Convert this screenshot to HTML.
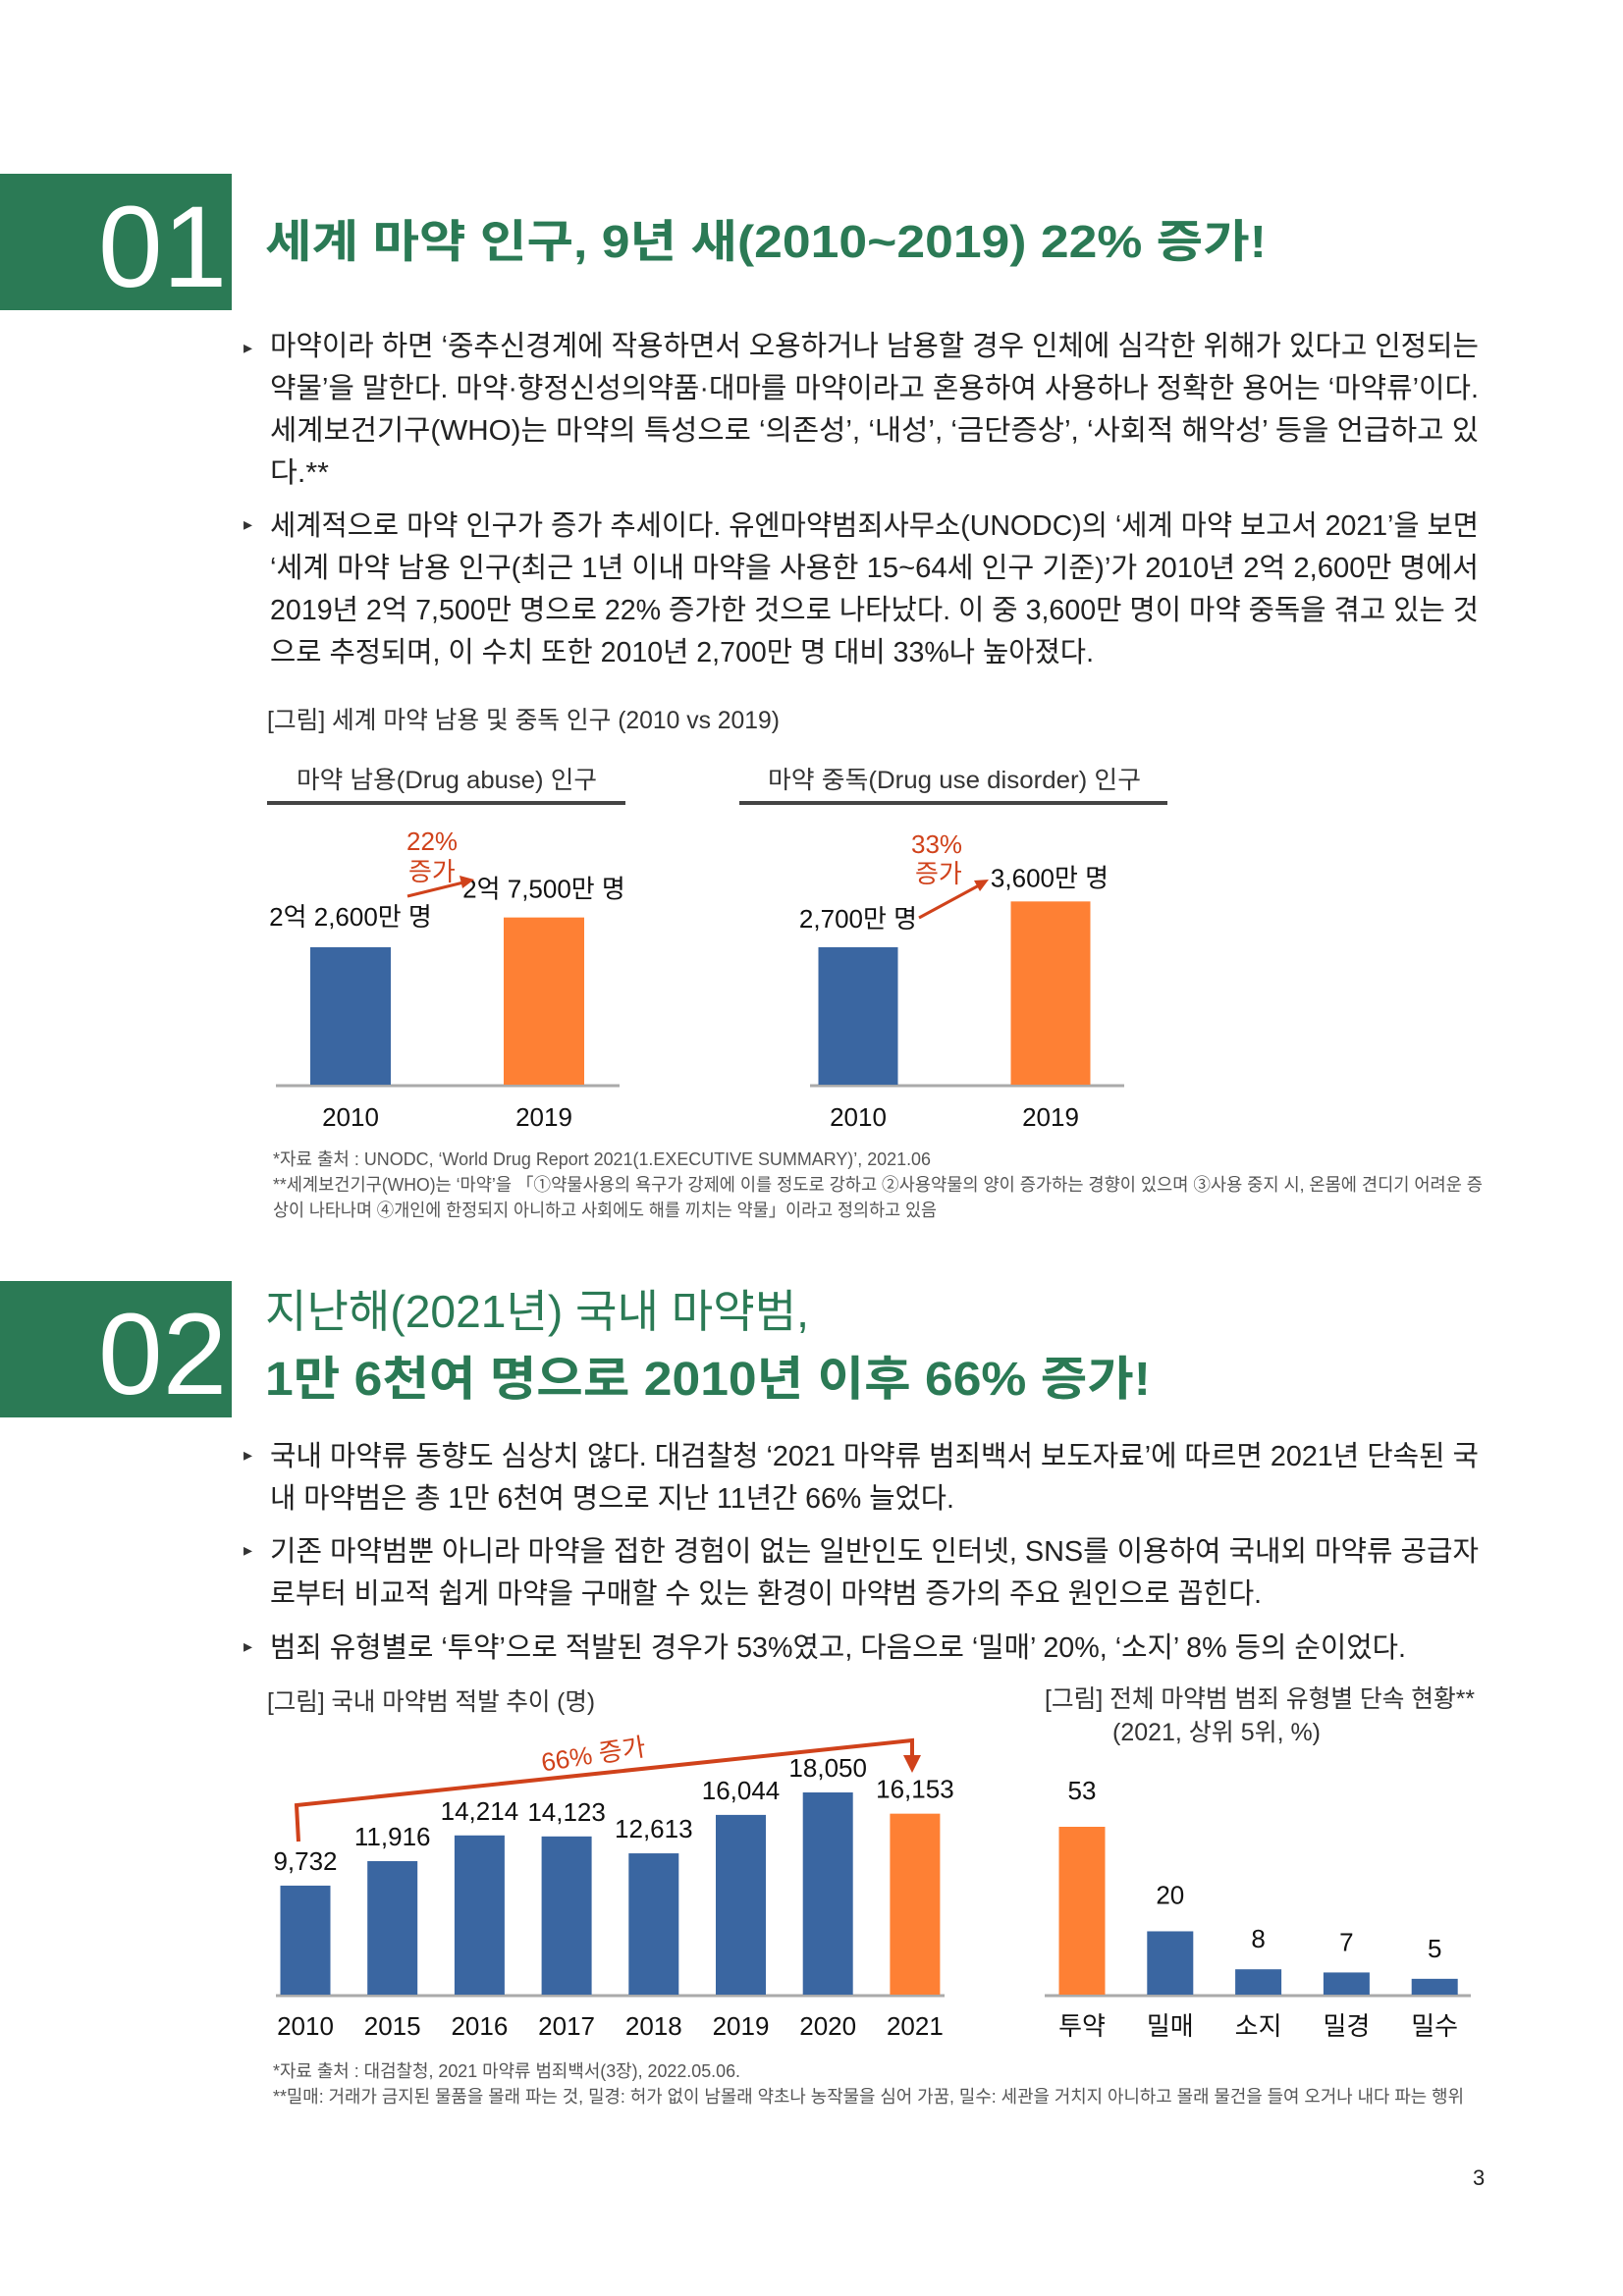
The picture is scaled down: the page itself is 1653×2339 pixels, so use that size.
<!DOCTYPE html>
<html><head><meta charset="utf-8"><style>
html,body{margin:0;padding:0;background:#fff}
svg{display:block}
text{font-family:"Liberation Sans","Noto Sans CJK KR",sans-serif}
.b{font-size:29px;fill:#222}
.fn{font-size:18px;fill:#555}
.cap{font-size:25px;fill:#333}
.lab{font-size:26px;fill:#111}
.red{fill:#d0421b}
</style></head><body>
<svg id="page" width="1653" height="2339" viewBox="0 0 1653 2339" xmlns="http://www.w3.org/2000/svg">
<rect width="1653" height="2339" fill="#fff"/>
<!-- Section 01 -->
<rect x="0" y="177" width="236" height="139" fill="#2b7a55"/>
<text x="100" y="292" font-family="Liberation Serif,serif" font-size="118" fill="#fff">01</text>
<text x="270" y="262" font-size="46" font-weight="bold" fill="#2b7a55" textLength="1020" lengthAdjust="spacingAndGlyphs">세계 마약 인구, 9년 새(2010~2019) 22% 증가!</text>
<g>
<text x="248" y="360" font-size="18" fill="#333">▸</text>
<text class="b" x="275" y="362" textLength="1231" lengthAdjust="spacingAndGlyphs">마약이라 하면 ‘중추신경계에 작용하면서 오용하거나 남용할 경우 인체에 심각한 위해가 있다고 인정되는</text>
<text class="b" x="275" y="405" textLength="1231" lengthAdjust="spacingAndGlyphs">약물’을 말한다. 마약·향정신성의약품·대마를 마약이라고 혼용하여 사용하나 정확한 용어는 ‘마약류’이다.</text>
<text class="b" x="275" y="448" textLength="1231" lengthAdjust="spacingAndGlyphs">세계보건기구(WHO)는 마약의 특성으로 ‘의존성’, ‘내성’, ‘금단증상’, ‘사회적 해악성’ 등을 언급하고 있</text>
<text class="b" x="275" y="491" textLength="60" lengthAdjust="spacingAndGlyphs">다.**</text>
<text x="248" y="540" font-size="18" fill="#333">▸</text>
<text class="b" x="275" y="545" textLength="1231" lengthAdjust="spacingAndGlyphs">세계적으로 마약 인구가 증가 추세이다. 유엔마약범죄사무소(UNODC)의 ‘세계 마약 보고서 2021’을 보면</text>
<text class="b" x="275" y="588" textLength="1231" lengthAdjust="spacingAndGlyphs">‘세계 마약 남용 인구(최근 1년 이내 마약을 사용한 15~64세 인구 기준)’가 2010년 2억 2,600만 명에서</text>
<text class="b" x="275" y="631" textLength="1231" lengthAdjust="spacingAndGlyphs">2019년 2억 7,500만 명으로 22% 증가한 것으로 나타났다. 이 중 3,600만 명이 마약 중독을 겪고 있는 것</text>
<text class="b" x="275" y="674" textLength="839" lengthAdjust="spacingAndGlyphs">으로 추정되며, 이 수치 또한 2010년 2,700만 명 대비 33%나 높아졌다.</text>
</g>
<text class="cap" x="272" y="742" textLength="522" lengthAdjust="spacingAndGlyphs">[그림] 세계 마약 남용 및 중독 인구 (2010 vs 2019)</text>
<text class="cap" x="302" y="803" textLength="306" lengthAdjust="spacingAndGlyphs">마약 남용(Drug abuse) 인구</text>
<rect x="272" y="816" width="365" height="4" fill="#444"/>
<text class="cap" x="782" y="803" textLength="380" lengthAdjust="spacingAndGlyphs">마약 중독(Drug use disorder) 인구</text>
<rect x="753" y="816" width="436" height="4" fill="#444"/>
<g id="c1"></g>
<g id="c2"></g>
<!-- annotations chart 1/2 -->
<text class="lab red" x="414" y="866" font-size="26">22%</text>
<text class="lab red" x="416" y="897" font-size="26">증가</text>
<line x1="415" y1="913" x2="472" y2="899" stroke="#d0421b" stroke-width="3"/>
<polygon points="483,896 468,892 471,905" fill="#d0421b"/>
<text class="lab red" x="928" y="869" font-size="26">33%</text>
<text class="lab red" x="932" y="899" font-size="26">증가</text>
<line x1="936" y1="935" x2="997" y2="902" stroke="#d0421b" stroke-width="3"/>
<polygon points="1007,896 992,897 998,908" fill="#d0421b"/>
<g>
<text class="fn" x="278" y="1187" textLength="670" lengthAdjust="spacingAndGlyphs">*자료 출처 : UNODC, ‘World Drug Report 2021(1.EXECUTIVE SUMMARY)’, 2021.06</text>
<text class="fn" x="278" y="1213" textLength="1232" lengthAdjust="spacingAndGlyphs">**세계보건기구(WHO)는 ‘마약’을 「①약물사용의 욕구가 강제에 이를 정도로 강하고 ②사용약물의 양이 증가하는 경향이 있으며 ③사용 중지 시, 온몸에 견디기 어려운 증</text>
<text class="fn" x="278" y="1239" textLength="676" lengthAdjust="spacingAndGlyphs">상이 나타나며 ④개인에 한정되지 아니하고 사회에도 해를 끼치는 약물」이라고 정의하고 있음</text>
</g>
<!-- Section 02 -->
<rect x="0" y="1305" width="236" height="139" fill="#2b7a55"/>
<text x="100" y="1420" font-family="Liberation Serif,serif" font-size="118" fill="#fff">02</text>
<text x="270" y="1352" font-size="46" fill="#2b7a55" textLength="554" lengthAdjust="spacingAndGlyphs">지난해(2021년) 국내 마약범,</text>
<text x="270" y="1421" font-size="48" font-weight="bold" fill="#2b7a55" textLength="902" lengthAdjust="spacingAndGlyphs">1만 6천여 명으로 2010년 이후 66% 증가!</text>
<g>
<text x="248" y="1488" font-size="18" fill="#333">▸</text>
<text class="b" x="275" y="1493" textLength="1231" lengthAdjust="spacingAndGlyphs">국내 마약류 동향도 심상치 않다. 대검찰청 ‘2021 마약류 범죄백서 보도자료’에 따르면 2021년 단속된 국</text>
<text class="b" x="275" y="1536" textLength="697" lengthAdjust="spacingAndGlyphs">내 마약범은 총 1만 6천여 명으로 지난 11년간 66% 늘었다.</text>
<text x="248" y="1585" font-size="18" fill="#333">▸</text>
<text class="b" x="275" y="1590" textLength="1231" lengthAdjust="spacingAndGlyphs">기존 마약범뿐 아니라 마약을 접한 경험이 없는 일반인도 인터넷, SNS를 이용하여 국내외 마약류 공급자</text>
<text class="b" x="275" y="1633" textLength="1010" lengthAdjust="spacingAndGlyphs">로부터 비교적 쉽게 마약을 구매할 수 있는 환경이 마약범 증가의 주요 원인으로 꼽힌다.</text>
<text x="248" y="1683" font-size="18" fill="#333">▸</text>
<text class="b" x="275" y="1688" textLength="1157" lengthAdjust="spacingAndGlyphs">범죄 유형별로 ‘투약’으로 적발된 경우가 53%였고, 다음으로 ‘밀매’ 20%, ‘소지’ 8% 등의 순이었다.</text>
</g>
<text class="cap" x="272" y="1742" textLength="334" lengthAdjust="spacingAndGlyphs">[그림] 국내 마약범 적발 추이 (명)</text>
<text class="cap" x="1064" y="1739" textLength="438" lengthAdjust="spacingAndGlyphs">[그림] 전체 마약범 범죄 유형별 단속 현황**</text>
<text class="cap" x="1133" y="1773" textLength="212" lengthAdjust="spacingAndGlyphs">(2021, 상위 5위, %)</text>
<g id="c3"></g>
<g id="c4"></g>
<g>
<polyline points="304,1876 302,1839 929,1773 929,1790" fill="none" stroke="#d0421b" stroke-width="4"/>
<polygon points="920,1788 938,1788 929,1806" fill="#d0421b"/>
<text x="550" y="1796" font-size="26" fill="#d0421b" transform="rotate(-9 606 1782)">66% 증가</text>
</g>
<g>
<text class="fn" x="278" y="2116" textLength="476" lengthAdjust="spacingAndGlyphs">*자료 출처 : 대검찰청, 2021 마약류 범죄백서(3장), 2022.05.06.</text>
<text class="fn" x="278" y="2142" textLength="1213" lengthAdjust="spacingAndGlyphs">**밀매: 거래가 금지된 물품을 몰래 파는 것, 밀경: 허가 없이 남몰래 약초나 농작물을 심어 가꿈, 밀수: 세관을 거치지 아니하고 몰래 물건을 들여 오거나 내다 파는 행위</text>
</g>
<text x="1500" y="2226" font-size="22" fill="#222">3</text>
</svg>
<script>
// Chart 1: drug abuse population (만 명)
const abuseYears = ["2010", "2019"];
const abuseValues = [22600, 27500];
const abuseLabels = ["2억 2,600만 명", "2억 7,500만 명"];
// Chart 2: drug use disorder population (만 명)
const disorderYears = ["2010", "2019"];
const disorderValues = [2700, 3600];
const disorderLabels = ["2,700만 명", "3,600만 명"];
// Chart 3: domestic drug offenders
const arrestYears = ["2010","2015","2016","2017","2018","2019","2020","2021"];
const arrestValues = [9732, 11916, 14214, 14123, 12613, 16044, 18050, 16153];
const arrestLabels = ["9,732","11,916","14,214","14,123","12,613","16,044","18,050","16,153"];
// Chart 4: crime types (%)
const crimeTypes = ["투약","밀매","소지","밀경","밀수"];
const crimeValues = [53, 20, 8, 7, 5];

const NS = "http://www.w3.org/2000/svg";
const BLUE = "#3a66a1", ORANGE = "#fe8034";
function mk(tag, attrs, parent, txt) {
  const e = document.createElementNS(NS, tag);
  for (const k in attrs) e.setAttribute(k, attrs[k]);
  if (txt !== undefined) e.textContent = txt;
  parent.appendChild(e);
  return e;
}
function drawChart(gid, cfg) {
  const g = document.getElementById(gid);
  const n = cfg.cats.length;
  const x = i => cfg.x0 + i * cfg.step;
  const y = v => cfg.base - v * cfg.scale;
  const axis = mk("line", {x1: cfg.ax0, x2: cfg.ax1, y1: cfg.base + 1, y2: cfg.base + 1, stroke: "#aaa", "stroke-width": 3}, g);
  
  
  for (let i = 0; i < n; i++) {
    const v = cfg.vals[i];
    const col = cfg.colors(i);
    const r = mk("rect", {x: x(i) - cfg.w / 2, y: y(v), width: cfg.w, height: cfg.base - y(v), fill: col}, g);
    
    
    const tl = mk("text", {x: x(i), y: cfg.tickY, "text-anchor": "middle", "font-size": 26, fill: "#111"}, g, cfg.cats[i]);
    
    
    const lx = cfg.labelX ? cfg.labelX(i) : x(i);
    const vl = mk("text", {x: lx, y: y(v) - cfg.labOff(i), "text-anchor": "middle", "font-size": 26, fill: "#111"}, g, cfg.labels[i]);
    
    
  }
}
drawChart("c1", {cats: abuseYears, vals: abuseValues, labels: abuseLabels, x0: 357, step: 197, w: 82,
  base: 1105, scale: 140 / 22600, ax0: 281, ax1: 631, tickY: 1147,
  colors: i => i ? ORANGE : BLUE, labOff: i => i ? 20 : 22, labelX: i => i ? 554 : 357});
drawChart("c2", {cats: disorderYears, vals: disorderValues, labels: disorderLabels, x0: 874, step: 196, w: 81,
  base: 1105, scale: 140 / 2700, ax0: 825, ax1: 1145, tickY: 1147,
  colors: i => i ? ORANGE : BLUE, labOff: i => i ? 15 : 20, labelX: i => i ? 1069 : 874});
drawChart("c3", {cats: arrestYears, vals: arrestValues, labels: arrestLabels, x0: 311, step: 88.7, w: 51,
  base: 2032, scale: 206 / 18050, ax0: 281, ax1: 962, tickY: 2073,
  colors: i => i === arrestYears.length - 1 ? ORANGE : BLUE, labOff: () => 16});
drawChart("c4", {cats: crimeTypes, vals: crimeValues, labels: crimeValues.map(String), x0: 1102, step: 89.8, w: 47,
  base: 2032, scale: 171 / 53, ax0: 1064, ax1: 1498, tickY: 2073,
  colors: i => i === 0 ? ORANGE : BLUE, labOff: i => i >= 2 ? 22 : 28});
</script>
</body></html>
